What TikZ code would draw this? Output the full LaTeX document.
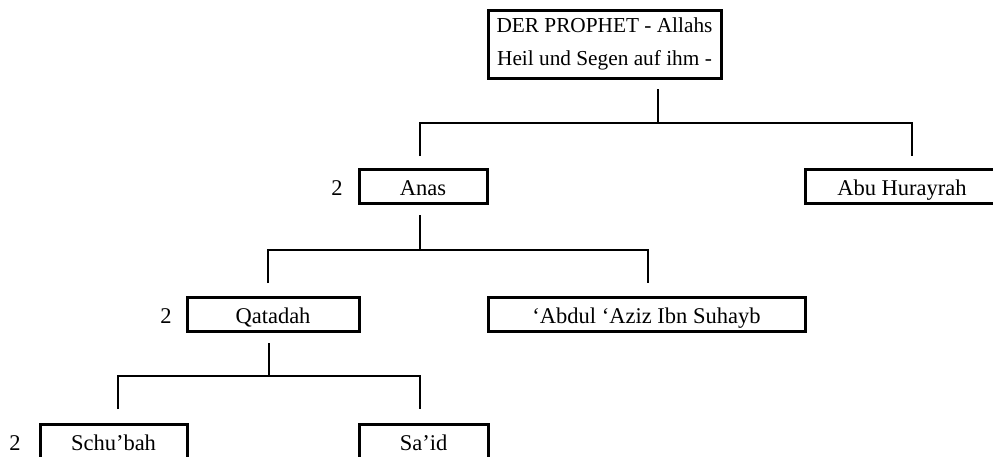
\documentclass[tikz,border=0pt]{standalone}
\usepackage{fontspec}
\setmainfont{Liberation Serif}
\begin{document}
\begin{tikzpicture}[x=1pt,y=-1pt,
  box/.style={draw,line width=3pt,inner sep=0pt,minimum height=34pt,
    text height=18pt,text depth=0pt,font=\fontsize{22.5}{33}\selectfont},
  topbox/.style={draw,line width=3pt,inner sep=0pt,minimum height=68pt,
    minimum width=233pt,align=center,font=\fontsize{21.3}{33}\selectfont},
  conn/.style={line width=2.8pt,line join=miter},
  num/.style={anchor=base,inner sep=0pt,font=\fontsize{22.5}{33}\selectfont}]
\useasboundingbox (0,0) rectangle (993,456);
\begin{scope}
\clip (0,0) rectangle (993,456);
% boxes
\node[topbox] (prophet) at (604.5,44) {DER PROPHET - Allahs\\Heil und Segen auf ihm -};
\node[box,minimum width=128pt] (anas) at (423,186.5) {Anas};
\node[box,minimum width=194pt] (abu) at (902,186) {Abu Hurayrah};
\node[box,minimum width=172pt] (qatadah) at (273,314) {Qatadah};
\node[box,minimum width=317pt] (abdul) at (646.5,314) {‘Abdul ‘Aziz Ibn Suhayb};
\node[box,minimum width=147pt] (schubah) at (113.5,441) {Schu’bah};
\node[box,minimum width=129pt] (said) at (423.5,441) {Sa’id};
% numbers
\node[num] (n1) at (337,195) {2};
\node[num] (n2) at (166,323) {2};
\node[num] (n3) at (15,450) {2};
% connector points
\coordinate (p0) at (658,89);
\coordinate (p1) at (658,123);
\coordinate (pl) at (420,123);
\coordinate (pr) at (912,123);
\coordinate (pla) at (420,156);
\coordinate (pra) at (912,156);
\coordinate (a0) at (420,215);
\coordinate (a1) at (420,250);
\coordinate (al) at (268,250);
\coordinate (ar) at (648,250);
\coordinate (ala) at (268,283);
\coordinate (ara) at (648,283);
\coordinate (q0) at (269,343);
\coordinate (q1) at (269,376);
\coordinate (ql) at (118,376);
\coordinate (qr) at (420,376);
\coordinate (qla) at (118,409);
\coordinate (qra) at (420,409);
% connectors
\draw[conn] (p0) -- (p1);
\draw[conn] (pla) -- (pl) -- (pr) -- (pra);
\draw[conn] (a0) -- (a1);
\draw[conn] (ala) -- (al) -- (ar) -- (ara);
\draw[conn] (q0) -- (q1);
\draw[conn] (qla) -- (ql) -- (qr) -- (qra);
\end{scope}
\end{tikzpicture}
\end{document}
